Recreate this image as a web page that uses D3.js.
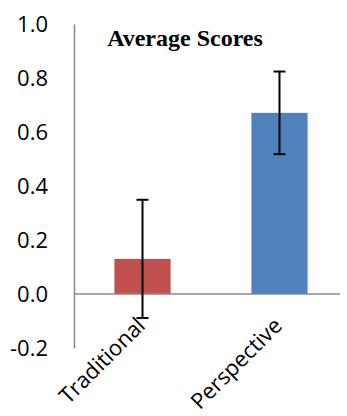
<!DOCTYPE html>
<html><head><meta charset="utf-8">
<script src="https://cdn.jsdelivr.net/npm/d3@7"></script>
<style>body{margin:0;background:#fff}svg{display:block}</style>
</head><body>
<script>
const categories = ["Traditional", "Perspective"];
const values = [0.13, 0.671];
const errors = [0.219, 0.153];
const colors = ["#C0504D", "#4F81BD"];
const tickValues = [-0.2, 0, 0.2, 0.4, 0.6, 0.8, 1.0];
const title = "Average Scores";

(function () {
const W = 347, H = 416;
const svg = d3.select("body").append("svg").attr("width", W).attr("height", H);
const mLeft = 74, mRight = 348, mTop = 24, mBottom = 348;

const y = d3.scaleLinear().domain([-0.2, 1.0]).range([mBottom, mTop]);
const x = d3.scaleBand().domain(categories).range([mLeft, mRight]).paddingInner(0.59).paddingOuter(0.295);

// y-axis
const yAxis = d3.axisLeft(y).tickValues(tickValues).tickSize(0).tickPadding(26).tickFormat(d => d3.format(".1f")(d).replace("\u2212", "-"));
const ga = svg.append("g").attr("transform", `translate(${mLeft},0)`).call(yAxis);
ga.select(".domain").attr("stroke", "#888").attr("stroke-width", 1.5);
ga.selectAll("text").attr("font-family", "'Open Sans', 'DejaVu Sans', sans-serif").attr("font-size", 22).attr("fill", "#000");

// bars
svg.selectAll("rect.bar").data(values).join("rect")
  .attr("class", "bar")
  .attr("x", (d, i) => x(categories[i]))
  .attr("width", x.bandwidth())
  .attr("y", d => y(Math.max(0, d)))
  .attr("height", d => Math.abs(y(d) - y(0)))
  .attr("fill", (d, i) => colors[i]);

// zero line
svg.append("line").attr("x1", mLeft).attr("x2", 340).attr("y1", y(0)).attr("y2", y(0))
  .attr("stroke", "#888").attr("stroke-width", 1.5);

// error bars
const cap = 6;
values.forEach((v, i) => {
  const cx = x(categories[i]) + x.bandwidth() / 2;
  const g = svg.append("g").attr("stroke", "#000").attr("stroke-width", 2);
  g.append("line").attr("x1", cx).attr("x2", cx).attr("y1", y(v + errors[i])).attr("y2", y(v - errors[i]));
  g.append("line").attr("x1", cx - cap).attr("x2", cx + cap).attr("y1", y(v + errors[i])).attr("y2", y(v + errors[i]));
  g.append("line").attr("x1", cx - cap).attr("x2", cx + cap).attr("y1", y(v - errors[i])).attr("y2", y(v - errors[i]));
});

// category labels
categories.forEach((c, i) => {
  const cx = x(c) + x.bandwidth() / 2;
  svg.append("text")
    .attr("transform", `translate(${cx + 4},${y(-0.2) - 21}) rotate(-45)`)
    .attr("text-anchor", "end")
    .attr("font-family", "'Open Sans', 'DejaVu Sans', sans-serif")
    .attr("font-size", 22)
    .text(c);
});

// title
svg.append("text").attr("x", 185).attr("y", 46).attr("text-anchor", "middle")
  .attr("font-family", "'Liberation Serif', 'Times New Roman', serif")
  .attr("font-weight", "bold").attr("font-size", 24).text(title);
})();
</script>
</body></html>
